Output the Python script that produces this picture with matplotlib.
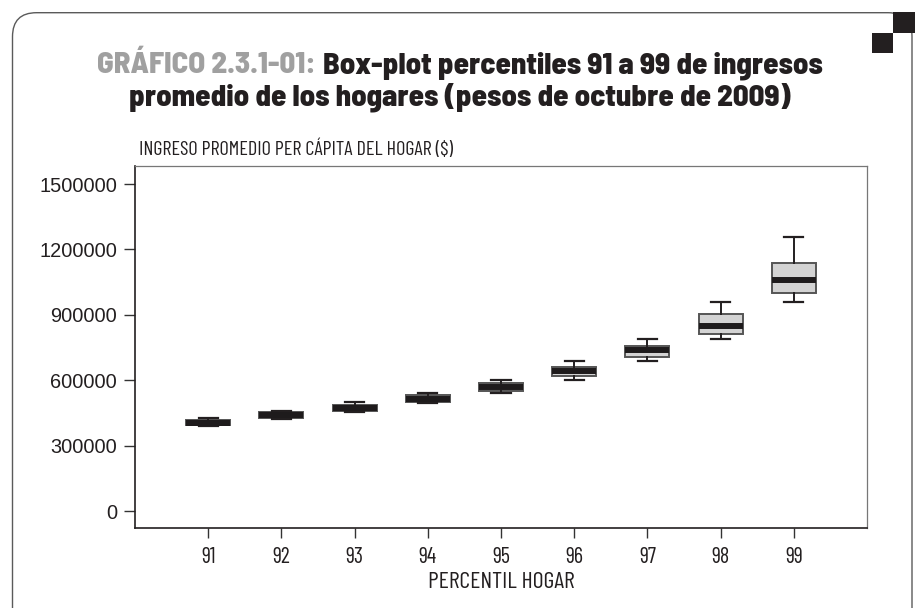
import matplotlib
matplotlib.use('Agg')
import matplotlib.pyplot as plt
from matplotlib import font_manager
from matplotlib.patches import FancyBboxPatch, Rectangle

# ---------------- data ----------------
percentiles = [91, 92, 93, 94, 95, 96, 97, 98, 99]
whislo = [392000, 420000, 454000, 495000, 541000, 600000, 686000, 790000, 958000]
q1     = [395000, 427000, 457000, 499000, 552000, 621000, 705000, 811000, 1000000]
med    = [406000, 440000, 472000, 515000, 568000, 641000, 739000, 850000, 1058000]
q3     = [419000, 452000, 488000, 534000, 587000, 661000, 759000, 902000, 1138000]
whishi = [425000, 459000, 498000, 543000, 601000, 686000, 790000, 958000, 1255000]
yticks = [0, 300000, 600000, 900000, 1200000, 1500000]

title_prefix = "GRÁFICO 2.3.1-01:"
title_rest1 = "Box-plot percentiles 91 a 99 de ingresos"
title_line2 = "promedio de los hogares (pesos de octubre de 2009)"
ylabel = "INGRESO PROMEDIO PER CÁPITA DEL HOGAR ($)"
xlabel = "PERCENTIL HOGAR"

# ---------------- fonts ----------------
names = {f.name for f in font_manager.fontManager.ttflist}


def pick(prefs):
    for n in prefs:
        if n in names:
            return n
    return 'DejaVu Sans'


TITLEF = pick(['Barlow Semi Condensed', 'Barlow Condensed', 'Liberation Sans'])
COND = pick(['Barlow Condensed', 'Asap Condensed', 'Liberation Sans'])
REG = pick(['Liberation Sans', 'DejaVu Sans'])

W, H = 915, 608
fig = plt.figure(figsize=(W / 100, H / 100), dpi=100)
r = fig.canvas.get_renderer()

# background overlay in pixel coordinates
bg = fig.add_axes([0, 0, 1, 1], zorder=0)
bg.set_xlim(0, W)
bg.set_ylim(H, 0)
bg.axis('off')
frame = FancyBboxPatch((12.5, 12.7), 912 - 12.5, 700,
                       boxstyle='round,pad=0,rounding_size=24',
                       fc='white', ec='#5a5a5a', lw=1.0)
bg.add_patch(frame)
bg.add_patch(Rectangle((893, 12), 22, 21, color='#231f20', lw=0))
bg.add_patch(Rectangle((872, 33), 21, 20, color='#231f20', lw=0))


def fit_size(text, target_w, **kw):
    t = bg.text(0, 0, text, fontsize=20, **kw)
    w = t.get_window_extent(r).width
    t.remove()
    return 20 * target_w / w


# title
tkw = dict(family=TITLEF, weight=800)
gap = 7
tfs = fit_size(title_prefix + " " + title_rest1, 722, **tkw)
t1 = bg.text(0, 73, title_prefix, color='#a0a0a0', fontsize=tfs,
             va='baseline', ha='left', **tkw)
t2 = bg.text(0, 73, title_rest1, color='#231f20', fontsize=tfs,
             va='baseline', ha='left', **tkw)
bg.text(460, 105, title_line2, color='#231f20', fontsize=tfs,
        va='baseline', ha='center', **tkw)
w1 = t1.get_window_extent(r).width
w2 = t2.get_window_extent(r).width
x0 = 460 - (w1 + gap + w2) / 2
t1.set_x(x0)
t2.set_x(x0 + w1 + gap)

# y label (top-left)
lkw = dict(family=COND, weight=400)
yfs = fit_size(ylabel, 313, **lkw)
bg.text(139, 155, ylabel, color='#231f20', fontsize=yfs,
        va='baseline', ha='left', **lkw)
# x label
xfs = fit_size(xlabel, 146, **lkw)
bg.text(501, 588, xlabel, color='#231f20', fontsize=xfs,
        va='baseline', ha='center', **lkw)

# ---------------- main axes ----------------
ax = fig.add_axes([135 / W, (H - 528) / H, 732 / W, 362 / H], zorder=1)
ax.set_facecolor('none')

stats = []
for i, p in enumerate(percentiles):
    stats.append(dict(label=str(p), whislo=whislo[i], q1=q1[i], med=med[i],
                      q3=q3[i], whishi=whishi[i], fliers=[]))

ax.bxp(stats, positions=percentiles, widths=0.6, capwidths=0.26,
       patch_artist=True, showfliers=False,
       boxprops=dict(facecolor='#d3d3d3', edgecolor='#555555', linewidth=1.4),
       medianprops=dict(color='#1e1b1c', linewidth=4.3, solid_capstyle='butt'),
       whiskerprops=dict(color='#231f20', linewidth=1.4),
       capprops=dict(color='#231f20', linewidth=1.6))

ax.set_xlim(90, 100)
ax.set_ylim(-78000, 1583000)
ax.set_xticks(percentiles)
ax.set_xticklabels([str(p) for p in percentiles], fontsize=16,
                   family=COND, weight=400, color='#231f20')
ax.set_yticks(yticks)
ax.set_yticklabels([str(v) for v in yticks], fontsize=14.4, family=REG,
                   color='#231f20')
ax.tick_params(axis='y', direction='out', length=8, width=1.0,
               color='#333333', pad=5)
ax.tick_params(axis='x', direction='out', length=7, width=1.0,
               color='#333333', pad=7)
for s in ['left', 'bottom']:
    ax.spines[s].set_color('#231f20')
    ax.spines[s].set_linewidth(1.2)
for s in ['top', 'right']:
    ax.spines[s].set_color('#777777')
    ax.spines[s].set_linewidth(0.9)

fig.savefig('out.png', dpi=100)
